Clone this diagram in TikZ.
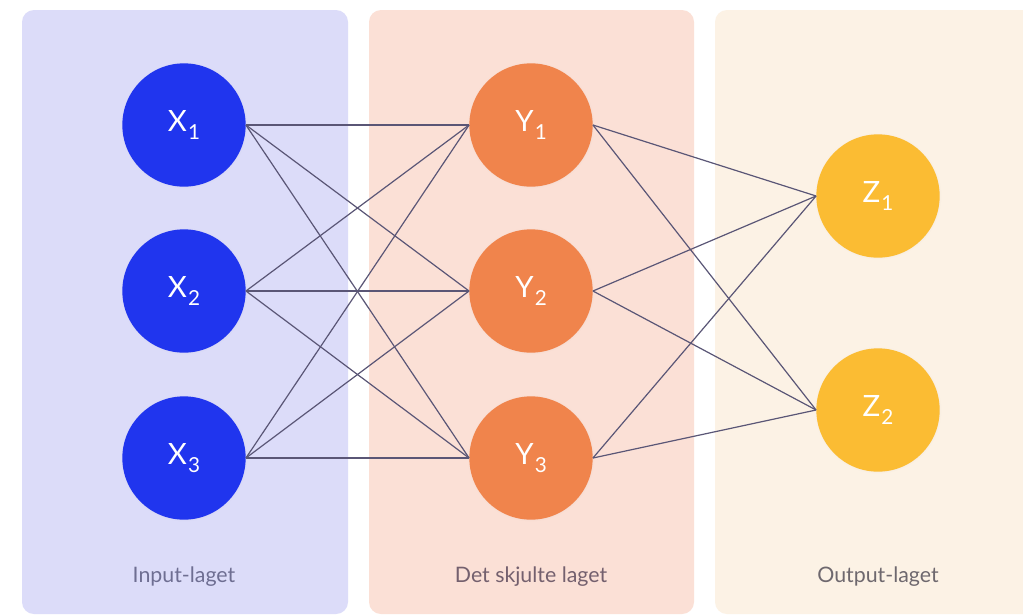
\documentclass[tikz,border=0pt]{standalone}
\usepackage{fontspec}
\setmainfont{Lato}
\usetikzlibrary{shadows}
\definecolor{panelA}{HTML}{DCDCF9}
\definecolor{panelB}{HTML}{FBE0D6}
\definecolor{panelC}{HTML}{FCF2E5}
\definecolor{inBlue}{HTML}{2035EE}
\definecolor{hidOrange}{HTML}{F0844C}
\definecolor{outYellow}{HTML}{FBBC33}
\definecolor{wire}{HTML}{5A5676}
\definecolor{capA}{HTML}{6E6E92}
\definecolor{capB}{HTML}{74606E}
\definecolor{capC}{HTML}{6E686E}
\newcommand{\neuron}[2]{#1\kern0.04em\raisebox{-0.3em}{\fontsize{15.5}{15.5}\selectfont #2}}
\tikzset{
  panel/.style={rounded corners=9pt},
  neuronbox/.style={circle, minimum size=92.5pt, inner sep=0pt, text=white,
    font=\fontsize{22}{22}\selectfont,
    circular drop shadow={shadow xshift=0pt, shadow yshift=0pt, shadow scale=1.03, opacity=0.12}},
  xnode/.style={neuronbox, fill=inBlue},
  ynode/.style={neuronbox, fill=hidOrange},
  znode/.style={neuronbox, fill=outYellow},
  link/.style={draw=wire, line width=0.9pt},
  caption/.style={font=\fontsize{16}{16}\selectfont, anchor=center}
}
\begin{document}
\begin{tikzpicture}[x=0.75pt, y=-0.75pt]
  \useasboundingbox (0,0) rectangle (1023,615);
  \begin{scope}
    \clip (0,0) rectangle (1023,615);
    \fill[white] (0,0) rectangle (1023,615);
    % layer panels
    \fill[panelA, panel] (22,10) rectangle (348,614);
    \fill[panelB, panel] (369,10) rectangle (694,614);
    \fill[panelC, panel] (715,10) rectangle (1045,614);
  \end{scope}

  % neurons
  \node[xnode] (x1) at (184,125) {\neuron{X}{1}};
  \node[xnode] (x2) at (184,291) {\neuron{X}{2}};
  \node[xnode] (x3) at (184,458) {\neuron{X}{3}};
  \node[ynode] (y1) at (531,125) {\neuron{Y}{1}};
  \node[ynode] (y2) at (531,291) {\neuron{Y}{2}};
  \node[ynode] (y3) at (531,458) {\neuron{Y}{3}};
  \node[znode] (z1) at (878,196) {\neuron{Z}{1}};
  \node[znode] (z2) at (878,410) {\neuron{Z}{2}};

  % connections
  \foreach \i in {1,2,3}{
    \foreach \j in {1,2,3}{
      \draw[link] (x\i.east) -- (y\j.west);
    }
    \foreach \k in {1,2}{
      \draw[link] (y\i.east) -- (z\k.west);
    }
  }

  % layer captions
  \node[caption, text=capA] (capIn) at (184,577) {Input-laget};
  \node[caption, text=capB] (capHid) at (531,577) {Det skjulte laget};
  \node[caption, text=capC] (capOut) at (878,577) {Output-laget};
\end{tikzpicture}
\end{document}
